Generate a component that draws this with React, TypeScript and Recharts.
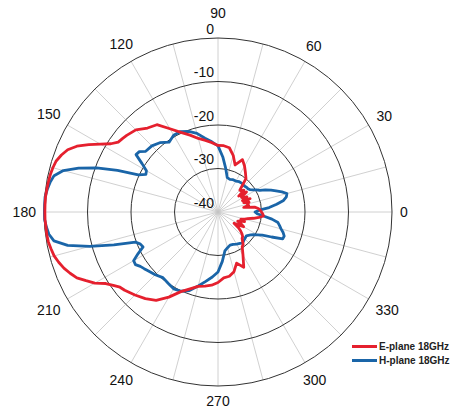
import {
  Legend,
  PolarAngleAxis,
  PolarGrid,
  PolarRadiusAxis,
  Radar,
  RadarChart,
} from "recharts";

const RED = "#e5202e";
const BLUE = "#1a65a8";
const INK = "#111";

const CX = 218;
const CY = 212;
const R = 174;

// measurement angles (deg), denser where the pattern changes fast
const angles = [
  0, 2.5, 5, 7.5, 10, 12.5, 15, 17.5, 20, 22.5, 25, 27.5, 30, 32.5, 35, 37.5, 40, 42.5, 45,
  50, 55, 60, 65, 70, 75, 80, 85, 90, 95, 100, 105, 110, 115, 120, 125, 130, 135,
  140, 142.5, 145, 147.5, 150, 152.5, 155, 157.5, 160, 162.5, 165, 167.5, 170, 172.5, 175, 177.5,
  180, 182.5, 185, 187.5, 190, 192.5, 195, 197.5, 200, 202.5, 205, 207.5, 210, 212.5, 215, 217.5,
  220, 225, 230, 235, 240, 245, 250, 255, 260, 265, 270, 275, 280, 285, 290, 295, 300, 305,
  307.5, 310, 312.5, 315, 317.5, 320, 322.5, 325, 327.5, 330, 332.5, 335, 337.5, 340, 342.5,
  345, 347.5, 350, 352.5, 355, 357.5,
];

// E-plane 18GHz, dB
const ePlane = [
  -30, -30.3, -30.7, -31.5, -34, -32.8, -33, -32.5, -33.7, -32, -33.8, -32.5, -33.5, -33.6, -32, -34, -32.2, -32.8, -32.9,
  -30, -29, -27.8, -26.7, -28.5, -26.5, -25, -24.7, -24.7, -24, -23.3, -22.5, -21.2, -19.8, -17.9, -15.5, -14.8, -13.3,
  -12.6, -12.3, -12, -10.8, -8.8, -6.5, -4.2, -2.6, -1.7, -1.0, -0.7, -0.5, -0.4, -0.3, -0.2, -0.2,
  -0.2, -0.2, -0.3, -0.3, -0.4, -0.7, -1.0, -1.6, -2.3, -3.2, -4.2, -5.8, -7.3, -9.4, -10.6, -11.6,
  -12, -13, -14, -15.2, -17.4, -19.8, -21.2, -22.3, -22.7, -23.1, -23.8, -24.8, -25, -25.8, -27.5, -26, -28.5, -30.3,
  -30.5, -31.2, -31.8, -32, -32.5, -33.2, -34, -35.5, -34.5, -33.2, -34, -35, -34.5, -33.5, -34.5,
  -33.6, -33, -31.7, -30.5, -29.5, -29.7,
];

// H-plane 18GHz, dB
const hPlane = [
  -31.5, -30.5, -28.2, -26.4, -24.7, -23.9, -23.6, -24.6, -25.8, -26.8, -28, -29.2, -29.8, -30.5, -31, -31.3, -31.3, -31.4, -31.5,
  -31.4, -31.5, -31.8, -31.8, -32, -31.8, -29.8, -27.3, -24.8, -23.8, -22.8, -21.3, -20.3, -19.6, -19.6, -20.4, -19.2, -18.5,
  -18.3, -17.2, -17, -19.3, -21, -21.3, -19.8, -15, -10.3, -6.4, -3.2, -1.4, -0.8, -0.4, -0.1, -0.1,
  -0.1, -0.1, -0.4, -0.8, -1.7, -4.6, -9.5, -14.9, -19.8, -20.7, -21, -19.3, -17.6, -17.5, -18.2, -18.6,
  -19, -19.6, -20.3, -20, -19.6, -19.9, -20.8, -22.4, -23.8, -25, -26.2, -28.6, -30.9, -31.5, -31.9, -31.8, -31.5, -31.2,
  -31, -31, -31.2, -31.3, -31.4, -31.5, -31.2, -30.8, -30.3, -29.5, -28.5, -26.4, -23.9, -23.8, -24.3,
  -25, -25.5, -26, -27.5, -29.5, -31,
];

const angleTicks = [0, 30, 60, 90, 120, 150, 180, 210, 240, 270, 300, 330];
const spokeAngles = [0, 15, 30, 45, 60, 75, 90, 105, 120, 135, 150, 165, 180, 195, 210, 225, 240, 255, 270, 285, 300, 315, 330, 345];
const radiusTicks = [-40, -30, -20, -10, 0];

const series = [
  { key: "h", name: "H-plane 18GHz", color: BLUE },
  { key: "e", name: "E-plane 18GHz", color: RED },
];
const legendOrder = ["e", "h"];

const rows = angles.map((a, i) => ({ angle: a, e: ePlane[i], h: hPlane[i] }));

function AngleTick(props: any) {
  const v = props.payload.value as number;
  const rad = (v * Math.PI) / 180;
  const c = Math.cos(rad);
  const s = Math.sin(rad);
  const label = String(v);
  const halfW = label.length * 3.9;
  const halfH = 6.5;
  const r = R + 8 + Math.abs(c) * halfW + Math.abs(s) * halfH + (v === 90 ? 11 : 0);
  return (
    <text
      x={CX + r * c}
      y={CY - r * s}
      textAnchor="middle"
      dominantBaseline="central"
      fontSize={14}
      fill={INK}
    >
      {label}
    </text>
  );
}

function RadiusTick(props: any) {
  return (
    <text
      x={props.x - 4}
      y={props.y - 9.5}
      textAnchor="end"
      dominantBaseline="central"
      fontSize={14}
      fill={INK}
    >
      {props.payload.value}
    </text>
  );
}

function LegendBox() {
  return (
    <div style={{ fontFamily: "'Liberation Sans', Arial, sans-serif" }}>
      {legendOrder.map((k) => {
        const s = series.find((x) => x.key === k)!;
        return (
          <div key={k} style={{ display: "flex", alignItems: "center", height: 14 }}>
            <span style={{ width: 25, height: 3, background: s.color, marginRight: 2 }} />
            <span style={{ fontSize: 10, fontWeight: 700, color: "#222" }}>{s.name}</span>
          </div>
        );
      })}
    </div>
  );
}

export default function App() {
  return (
    <div
      style={{
        position: "absolute",
        left: 0,
        top: 0,
        width: 451,
        height: 411,
        background: "#fff",
        fontFamily: "'Liberation Sans', Arial, sans-serif",
      }}
    >
      <RadarChart
        width={451}
        height={411}
        cx={CX}
        cy={CY}
        innerRadius={0}
        outerRadius={R}
        startAngle={0}
        endAngle={360}
        data={rows}
        margin={{ top: 0, right: 0, bottom: 0, left: 0 }}
      >
        <PolarGrid gridType="circle" polarAngles={spokeAngles} polarRadius={[]} stroke="#c4c4c4" strokeWidth={0.8} />
        <PolarGrid gridType="circle" radialLines={false} stroke="#333" strokeWidth={1} />
        <PolarAngleAxis
          dataKey="angle"
          type="number"
          domain={[0, 360]}
          ticks={angleTicks}
          axisLine={false}
          tickLine={false}
          tick={AngleTick}
        />
        <PolarRadiusAxis
          angle={90}
          type="number"
          domain={[-40, 0]}
          ticks={radiusTicks}
          axisLine={false}
          tickLine={false}
          tick={RadiusTick}
        />
        {series.map((s) => (
          <Radar
            key={s.key}
            name={s.name}
            dataKey={s.key}
            stroke={s.color}
            strokeWidth={2.8}
            strokeLinejoin="round"
            fill="none"
            fillOpacity={0}
            dot={false}
            isAnimationActive={false}
          />
        ))}
        <Legend
          layout="vertical"
          align="center"
          verticalAlign="middle"
          content={LegendBox}
          wrapperStyle={{ left: 352, top: 339, width: 99, height: 30 }}
        />
      </RadarChart>
    </div>
  );
}
